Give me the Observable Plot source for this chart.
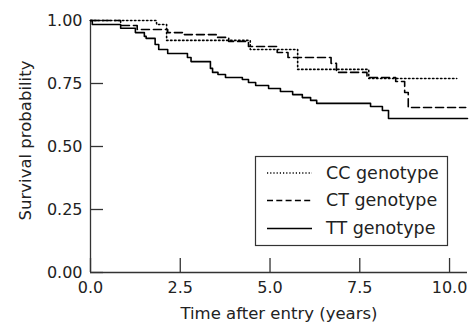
<!DOCTYPE html>
<html>
<head>
<meta charset="utf-8">
<script src="https://cdn.jsdelivr.net/npm/d3@7"></script>
<script src="https://cdn.jsdelivr.net/npm/@observablehq/plot@0.6"></script>
<style>
  html, body { margin: 0; padding: 0; background: #fff; }
  #wrap { position: relative; width: 469px; height: 326px; }
  #legend { position: absolute; left: 0; top: 0; pointer-events: none; }
</style>
</head>
<body>
<div id="wrap"></div>
<script>
// ---- Data ----
const genotypes = ["CC genotype", "CT genotype", "TT genotype"];

const ccTime = [0, 1.84, 2.12, 4.45, 5.77, 7.75, 10.2];
const ccSurv = [1.0, 0.984, 0.921, 0.885, 0.806, 0.770, 0.770];

const ctTime = [0, 0.84, 1.3, 2.15, 2.6, 3.5, 3.85, 4.4, 5.2, 5.5, 6.7, 6.85, 7.7, 8.5, 8.75, 8.85, 10.45];
const ctSurv = [1.0, 0.98, 0.964, 0.952, 0.944, 0.933, 0.917, 0.897, 0.873, 0.853, 0.83, 0.794, 0.774, 0.758, 0.714, 0.655, 0.655];

const ttTime = [0, 0.05, 0.84, 1.25, 1.5, 1.55, 1.8, 1.9, 2.15, 2.7, 2.8, 3.34, 3.4, 3.55, 3.76, 4.23, 4.4, 4.6, 4.96, 5.29, 5.63, 5.9, 6.13, 6.3, 7.8, 8.13, 8.3, 10.5];
const ttSurv = [1.0, 0.984, 0.969, 0.952, 0.937, 0.929, 0.905, 0.885, 0.869, 0.853, 0.837, 0.81, 0.794, 0.786, 0.774, 0.766, 0.754, 0.742, 0.730, 0.718, 0.706, 0.694, 0.683, 0.671, 0.659, 0.643, 0.611, 0.611];

const xTicks = [0, 2.5, 5, 7.5, 10];
const yTicks = [0, 0.25, 0.5, 0.75, 1];
const xLabel = "Time after entry (years)";
const yLabel = "Survival probability";

// ---- Build table ----
const series = [
  {name: genotypes[0], t: ccTime, s: ccSurv, dash: "1.4,2.6"},
  {name: genotypes[1], t: ctTime, s: ctSurv, dash: "8,4"},
  {name: genotypes[2], t: ttTime, s: ttSurv, dash: null}
];
const rows = series.flatMap(se => se.t.map((t, i) => ({g: se.name, t, s: se.s[i]})));

const W = 469, H = 326, mL = 90, mR = 2, mT = 20, mB = 54;
const plotW = W - mL - mR, plotH = H - mT - mB;
const font = "DejaVu Sans, sans-serif";
const ink = "#222";

const plot = Plot.plot({
  width: W, height: H,
  marginLeft: mL, marginRight: mR, marginTop: mT, marginBottom: mB,
  style: {fontFamily: font, background: "#fff", color: ink},
  x: {domain: [0, 10.5]},
  y: {domain: [0, 1]},
  marks: [
    Plot.ruleX([0], {stroke: "#333", strokeWidth: 1.3}),
    Plot.ruleY([0], {stroke: "#333", strokeWidth: 1.3}),
    Plot.tickY(yTicks, {y: d => d, insetRight: plotW - 13, stroke: "#333", strokeWidth: 1.3}),
    Plot.tickX(xTicks, {x: d => d, insetTop: plotH - 14, stroke: "#333", strokeWidth: 1.3}),
    Plot.axisY(yTicks, {tickSize: 0, tickPadding: 8, fontSize: 16, tickFormat: d => d.toFixed(2), label: null, fill: ink}),
    Plot.axisX(xTicks, {tickSize: 0, tickPadding: 9.5, fontSize: 16, tickFormat: d => d.toFixed(1), label: null, fill: ink}),
    ...series.map(se => Plot.line(rows.filter(r => r.g === se.name), {
      x: "t", y: "s", curve: "step-after", stroke: "#000", strokeWidth: 1.6,
      strokeDasharray: se.dash
    })),
    Plot.text([xLabel], {frameAnchor: "bottom", dy: 41.5, fontSize: 16.5, fill: ink, lineAnchor: "middle", textAnchor: "middle"}),
    Plot.text([yLabel], {frameAnchor: "left", dx: -65, dy: -6, rotate: -90, fontSize: 16.5, fill: ink, lineAnchor: "middle", textAnchor: "middle"})
  ]
});

const wrap = document.getElementById("wrap");
wrap.appendChild(plot);

// ---- Legend (overlay) ----
const leg = d3.select(wrap).append("svg")
  .attr("id", "legend").attr("width", W).attr("height", H);
leg.append("rect")
  .attr("x", 255.5).attr("y", 156.5).attr("width", 192).attr("height", 89)
  .attr("fill", "#fff").attr("stroke", "#333").attr("stroke-width", 1.2);
const legDash = ["1.2,2", "6,3.3", null];
const rowY = [173, 200.5, 228.5];
genotypes.forEach((g, i) => {
  leg.append("line")
    .attr("x1", 267).attr("x2", 312).attr("y1", rowY[i]).attr("y2", rowY[i])
    .attr("stroke", "#000").attr("stroke-width", 1.4)
    .attr("stroke-dasharray", legDash[i]);
  leg.append("text")
    .attr("x", 326).attr("y", rowY[i] + 5.5)
    .attr("font-family", font).attr("font-size", 17.5).attr("fill", ink)
    .text(g);
});
</script>
</body>
</html>
